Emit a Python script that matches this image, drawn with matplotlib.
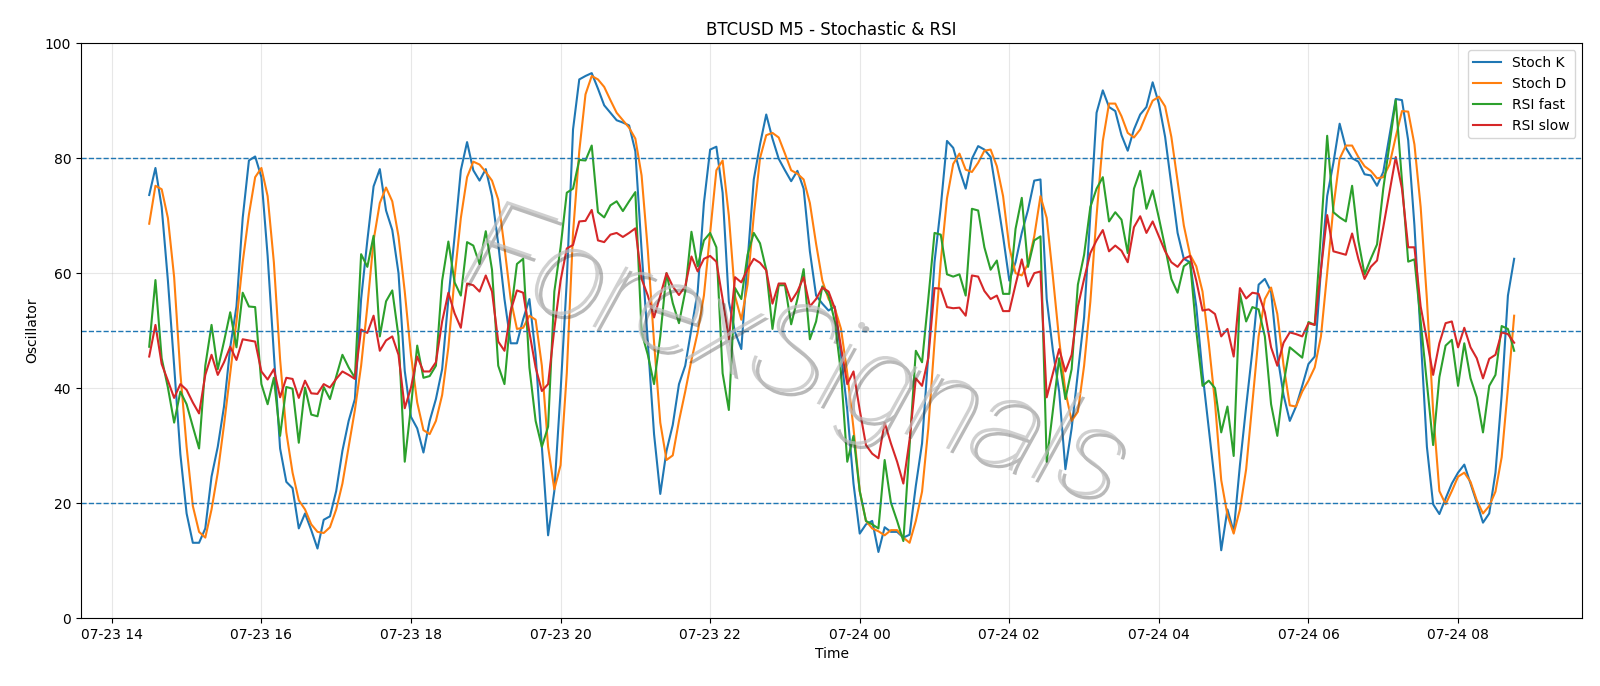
import matplotlib
matplotlib.use('Agg')
import matplotlib.pyplot as plt
import matplotlib.dates as mdates
import matplotlib.patheffects as pe
import pandas as pd

# 5-minute bars, 07-23 14:30 -> 07-24 08:45
times = pd.date_range('2025-07-23 14:30', periods=220, freq='5min')

stoch_k = [73.6, 78.3, 71.5, 58.7, 43.9, 28.5, 18.2, 13.1, 13.1, 15.6,
           24.6, 29.8, 36.8, 47.1, 54.2, 69.6, 79.6, 80.3, 76.7, 63.0,
           46.0, 29.5, 23.7, 22.6, 15.6, 18.2, 15.3, 12.1, 17.1, 17.7,
           22.1, 29.1, 34.3, 38.1, 55.5, 65.7, 75.1, 78.1, 70.9, 67.5,
           60.0, 43.0, 35.0, 33.0, 28.8, 34.3, 38.1, 43.3, 55.5, 66.4,
           77.9, 82.8, 77.9, 76.1, 78.1, 73.4, 65.1, 55.5, 47.8, 47.8,
           52.0, 55.5, 45.8, 29.8, 14.4, 22.1, 39.4, 58.7, 85.0, 93.7,
           94.3, 94.8, 92.1, 89.2, 87.9, 86.6, 86.2, 85.7, 81.2, 64.0,
           48.0, 32.0, 21.6, 29.1, 33.6, 40.7, 43.9, 50.3, 56.8, 72.2,
           81.5, 82.0, 74.0, 55.0, 49.7, 46.8, 62.0, 76.3, 82.4, 87.6,
           83.4, 79.9, 77.9, 76.0, 77.8, 74.7, 63.8, 56.1, 54.7, 53.5,
           54.2, 45.8, 36.2, 23.4, 14.7, 16.3, 16.9, 11.5, 15.8, 15.0,
           15.0, 14.0, 14.5, 23.0, 30.4, 45.8, 61.9, 71.5, 83.0, 81.8,
           78.0, 74.7, 79.9, 82.1, 81.5, 80.2, 73.4, 66.4, 58.7, 61.9,
           67.0, 71.0, 76.1, 76.3, 55.5, 46.5, 39.4, 25.9, 33.0, 42.6,
           52.3, 70.0, 87.9, 91.8, 88.9, 88.2, 84.0, 81.3, 85.0, 87.6,
           88.9, 93.2, 89.5, 83.7, 75.4, 67.0, 62.5, 61.9, 54.2, 42.6,
           33.0, 23.4, 11.8, 18.9, 15.0, 26.6, 36.8, 46.5, 58.0, 59.0,
           56.8, 45.8, 38.8, 34.3, 36.8, 40.4, 44.2, 45.5, 60.6, 73.4,
           79.2, 86.0, 81.8, 80.0, 79.4, 77.2, 77.0, 75.2, 77.6, 84.0,
           90.3, 90.1, 83.1, 68.3, 49.0, 29.8, 19.8, 18.1, 20.8, 23.4,
           25.3, 26.7, 23.4, 20.1, 16.6, 18.2, 25.3, 38.8, 56.1, 62.5]

stoch_d = [68.6, 75.2, 74.6, 69.6, 59.3, 42.6, 29.8, 19.5, 15.0, 14.0,
           18.9, 25.3, 33.6, 42.6, 51.6, 61.9, 70.2, 76.7, 78.3, 73.4,
           61.9, 45.0, 32.3, 25.3, 20.5, 18.9, 16.3, 15.0, 14.8, 15.8,
           18.9, 23.4, 29.8, 36.2, 43.9, 54.2, 65.7, 72.2, 74.9, 72.5,
           66.4, 56.8, 45.8, 37.5, 32.7, 32.0, 34.3, 38.8, 47.1, 59.3,
           69.6, 76.7, 79.4, 78.9, 77.6, 76.1, 72.8, 64.5, 55.5, 50.3,
           50.5, 52.6, 51.9, 43.9, 29.8, 22.4, 26.6, 42.6, 67.0, 81.2,
           91.1, 94.3, 93.7, 92.4, 90.1, 87.9, 86.6, 85.3, 83.4, 77.0,
           64.0, 48.0, 34.0, 27.5, 28.3, 34.3, 39.4, 44.9, 49.7, 56.1,
           67.0, 77.9, 79.6, 70.0, 56.0, 51.9, 58.0, 70.0, 80.0, 84.0,
           84.4, 83.6, 80.8, 77.9, 77.3, 76.3, 72.2, 65.1, 58.7, 55.5,
           53.9, 50.3, 42.6, 33.0, 22.1, 16.9, 15.6, 15.1, 14.4, 15.3,
           15.3, 14.0, 13.1, 16.9, 22.0, 33.0, 48.0, 62.0, 73.0, 79.0,
           80.8, 78.0, 77.6, 79.2, 81.3, 81.5, 78.6, 73.4, 64.5, 60.0,
           59.6, 61.6, 66.4, 73.4, 69.6, 59.3, 48.4, 39.4, 34.3, 35.9,
           43.9, 55.0, 70.0, 83.0, 89.5, 89.5, 87.3, 84.4, 83.6, 85.0,
           87.6, 90.0, 90.7, 89.0, 83.7, 76.0, 68.3, 63.2, 61.2, 56.8,
           47.8, 37.5, 24.0, 17.9, 14.7, 18.9, 25.9, 37.5, 49.0, 55.5,
           57.5, 52.9, 44.0, 37.0, 36.8, 39.4, 41.3, 43.6, 49.0, 60.0,
           71.5, 79.9, 82.2, 82.2, 80.2, 78.6, 77.8, 76.5, 76.7, 78.9,
           83.7, 88.2, 88.1, 82.4, 71.5, 55.5, 36.0, 22.1, 19.8, 22.1,
           24.6, 25.3, 23.7, 20.5, 18.2, 19.5, 22.0, 28.0, 40.0, 52.6]

rsi_fast = [47.2, 58.8, 45.2, 40.1, 34.0, 39.4, 37.2, 33.3, 29.5, 43.9,
            51.0, 43.3, 48.1, 53.2, 47.1, 56.6, 54.2, 54.1, 40.7, 37.2,
            41.8, 31.7, 40.2, 39.9, 30.5, 40.1, 35.4, 35.1, 40.2, 38.1,
            42.0, 45.8, 43.6, 41.8, 63.3, 61.1, 66.5, 49.0, 55.1, 57.0,
            49.0, 27.2, 36.8, 47.4, 41.8, 42.1, 43.9, 58.7, 65.5, 58.4,
            56.1, 65.4, 64.8, 61.6, 67.3, 60.6, 43.9, 40.7, 52.9, 61.6,
            62.5, 43.6, 34.3, 29.8, 33.3, 56.8, 64.5, 74.0, 74.7, 79.7,
            79.6, 82.2, 70.6, 69.7, 71.8, 72.5, 70.8, 72.5, 74.1, 49.7,
            45.8, 40.7, 49.0, 60.0, 54.8, 51.3, 56.8, 67.2, 61.2, 65.7,
            67.0, 64.5, 42.6, 36.2, 57.4, 55.5, 63.2, 67.0, 65.2, 60.6,
            50.3, 57.9, 57.9, 51.1, 55.5, 60.7, 48.5, 51.6, 57.7, 56.1,
            51.6, 42.6, 27.2, 31.7, 22.1, 16.9, 16.3, 15.6, 27.5, 20.1,
            16.9, 13.4, 30.0, 46.5, 44.5, 55.5, 67.0, 66.7, 59.8, 59.4,
            59.8, 56.1, 71.2, 70.9, 64.5, 60.6, 62.2, 56.4, 56.4, 67.7,
            73.1, 61.1, 65.7, 66.4, 27.2, 36.2, 45.2, 38.1, 43.3, 58.0,
            63.2, 71.5, 74.7, 76.7, 69.0, 70.6, 69.3, 63.5, 74.7, 77.8,
            71.2, 74.4, 69.6, 64.5, 59.0, 56.6, 61.2, 62.0, 50.0, 40.4,
            41.3, 40.0, 32.3, 36.8, 28.2, 56.4, 51.6, 54.1, 53.7, 49.0,
            37.2, 31.7, 40.7, 47.1, 46.2, 45.3, 51.5, 51.0, 67.0, 83.9,
            70.6, 69.7, 69.0, 75.2, 65.7, 59.8, 62.5, 65.0, 74.7, 82.4,
            90.1, 76.0, 62.0, 62.4, 51.6, 40.7, 30.1, 41.9, 47.4, 48.4,
            40.4, 47.8, 41.7, 38.4, 32.3, 40.4, 42.3, 50.8, 50.3, 46.5]

rsi_slow = [45.5, 51.0, 44.2, 41.3, 38.3, 40.7, 39.7, 37.5, 35.6, 42.3,
            45.8, 42.3, 44.5, 47.2, 44.9, 48.5, 48.3, 48.1, 42.9, 41.5,
            43.3, 38.4, 41.8, 41.6, 38.3, 41.3, 39.1, 39.0, 40.7, 40.1,
            41.6, 42.9, 42.3, 41.6, 50.2, 49.6, 52.6, 46.5, 48.3, 49.0,
            45.8, 36.5, 40.1, 45.5, 42.9, 42.9, 44.5, 51.6, 56.6, 53.0,
            50.5, 58.2, 57.9, 56.8, 59.6, 56.8, 48.1, 46.5, 53.5, 57.0,
            56.6, 49.7, 43.6, 39.5, 40.7, 50.3, 58.7, 64.3, 64.9, 69.0,
            69.1, 71.0, 65.7, 65.4, 66.7, 67.0, 66.3, 67.0, 67.8, 59.0,
            56.1, 52.3, 56.1, 60.0, 57.7, 56.2, 57.7, 62.9, 60.3, 62.5,
            63.0, 62.0, 55.5, 48.5, 59.3, 58.4, 60.7, 62.5, 61.8, 60.5,
            54.7, 58.2, 58.2, 55.1, 56.8, 59.3, 54.2, 55.5, 57.5, 56.8,
            53.9, 47.1, 40.7, 42.9, 36.2, 30.1, 28.6, 27.8, 34.0, 30.4,
            27.2, 23.4, 31.0, 41.7, 40.4, 45.2, 57.4, 57.3, 54.1, 53.9,
            54.0, 52.6, 59.6, 59.4, 56.9, 55.5, 56.1, 53.4, 53.4, 58.0,
            62.4, 57.7, 60.0, 60.3, 38.4, 42.6, 46.8, 42.9, 45.8, 54.2,
            59.0, 63.5, 65.7, 67.5, 63.8, 64.8, 63.9, 61.9, 68.0, 69.9,
            67.0, 69.0, 66.4, 63.8, 61.9, 61.1, 62.5, 63.0, 58.7, 53.5,
            53.7, 52.9, 49.0, 50.3, 45.5, 57.4, 55.6, 56.6, 56.4, 53.2,
            47.1, 43.9, 47.9, 49.7, 49.4, 49.0, 51.3, 51.0, 60.6, 70.1,
            63.8, 63.5, 63.2, 66.9, 62.5, 59.0, 61.1, 62.2, 68.0, 74.1,
            80.2, 74.7, 64.5, 64.5, 54.2, 48.4, 42.3, 47.8, 51.3, 51.6,
            47.1, 50.5, 47.1, 45.2, 41.7, 45.1, 45.8, 49.7, 49.4, 47.9]

levels = [80, 50, 20]

fig, ax = plt.subplots(figsize=(16, 6.86), dpi=100)
fig.subplots_adjust(left=0.0506, right=0.989, top=0.937, bottom=0.099)

ax.plot(times, stoch_k, label='Stoch K', lw=1.5)
ax.plot(times, stoch_d, label='Stoch D', lw=1.5)
ax.plot(times, rsi_fast, label='RSI fast', lw=1.5)
ax.plot(times, rsi_slow, label='RSI slow', lw=1.5)
for lv in levels:
    ax.axhline(lv, color='C0', ls='--', lw=1)

ax.set_ylim(0, 100)
ax.xaxis.set_major_locator(mdates.HourLocator(byhour=range(0, 24, 2)))
ax.xaxis.set_major_formatter(mdates.DateFormatter('%m-%d %H'))
ax.grid(True, alpha=0.3)
ax.set_title('BTCUSD M5 - Stochastic & RSI')
ax.set_xlabel('Time')
ax.set_ylabel('Oscillator')
ax.legend(loc='upper right')

# watermark
ax.text(0.475, 0.45, 'ForexSignals', transform=ax.transAxes,
        fontsize=92, family=['Roboto', 'DejaVu Sans'], fontweight='light',
        fontstyle='italic', color='#bdbdbd', alpha=0.7,
        rotation=-19, ha='center', va='center', zorder=10,
        path_effects=[pe.SimplePatchShadow(offset=(3, -3), alpha=0.35),
                      pe.Normal()])

fig.savefig('out.png', dpi=100)
